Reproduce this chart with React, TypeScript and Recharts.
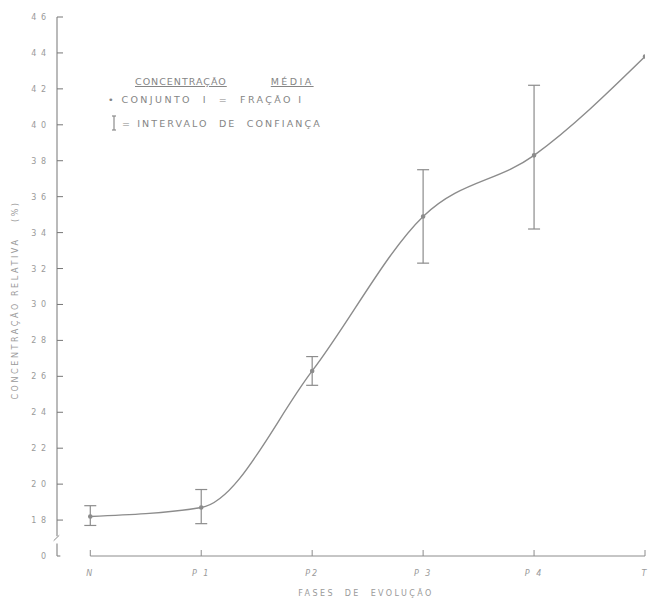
import { ComposedChart, Line, XAxis, YAxis, ErrorBar, ReferenceLine } from "recharts"

// fases de evolução e concentração média (%)
const phases = ["N", "P 1", "P2", "P 3", "P 4", "T"]
const mean = [18.2, 18.7, 26.3, 34.9, 38.3, 43.8]
const lower = [17.7, 17.8, 25.5, 32.3, 34.2, null]
const upper = [18.8, 19.7, 27.1, 37.5, 42.2, null]
const yTicks = [16, 18, 20, 22, 24, 26, 28, 30, 32, 34, 36, 38, 40, 42, 44, 46]

const data = phases.map((p, i) => ({
  x: i,
  mean: mean[i],
  err: lower[i] == null ? undefined : [mean[i] - (lower[i] as number), (upper[i] as number) - mean[i]],
}))

const GRAY = "#8c8c8c"
const TEXT = "#9a9a9a"
const FONT = "'DejaVu Sans', sans-serif"

const YTick = (props: any) => {
  const { y, payload } = props
  const v = payload.value
  const axisX = 57
  const label = v === 16 ? "0" : String(v).split("").join(" ")
  return (
    <g>
      {v !== 16 && <line x1={axisX} x2={axisX + 6} y1={y} y2={y} stroke="#777" strokeWidth={1} />}
      <text x={axisX - 10} y={y + 3} textAnchor="end" fontSize={8} fill={TEXT} fontFamily={FONT} letterSpacing={1}>
        {label}
      </text>
    </g>
  )
}

const XTick = (props: any) => {
  const { x, payload } = props
  const axisY = 556
  return (
    <g>
      <line x1={x} x2={x} y1={axisY} y2={axisY - 6} stroke={GRAY} strokeWidth={1} />
      <text x={x} y={axisY + 20} textAnchor="middle" fontSize={8} fill={TEXT} fontFamily={FONT} fontStyle="italic" letterSpacing={2}>
        {phases[payload.value]}
      </text>
    </g>
  )
}

export default function App() {
  return (
    <div style={{ position: "absolute", left: 0, top: 0, width: 650, height: 602, background: "#fff" }}>
      <ComposedChart width={650} height={602} data={data} margin={{ top: 17, right: 5, bottom: 6, left: 0 }}>
        <XAxis
          type="number"
          dataKey="x"
          domain={[-0.3, 5]}
          ticks={[0, 1, 2, 3, 4, 5]}
          axisLine={false}
          tickLine={false}
          tick={<XTick />}
          height={40}
          allowDataOverflow
        />
        <YAxis
          type="number"
          domain={[16, 46]}
          ticks={yTicks}
          axisLine={false}
          tickLine={false}
          tick={<YTick />}
          width={57}
          allowDataOverflow
        />
        {/* eixo x */}
        <ReferenceLine segment={[{ x: 0, y: 16 }, { x: 5, y: 16 }]} stroke={GRAY} strokeWidth={1} ifOverflow="visible" />
        {/* eixo y com quebra */}
        <ReferenceLine segment={[{ x: -0.3, y: 17.1 }, { x: -0.3, y: 46 }]} stroke={GRAY} strokeWidth={1.2} ifOverflow="visible" />
        <ReferenceLine segment={[{ x: -0.33, y: 16.85 }, { x: -0.28, y: 17.15 }]} stroke={GRAY} strokeWidth={1} ifOverflow="visible" />
        <ReferenceLine segment={[{ x: -0.3, y: 16 }, { x: -0.3, y: 16.7 }]} stroke={GRAY} strokeWidth={1.2} ifOverflow="visible" />
        <ReferenceLine segment={[{ x: -0.3, y: 16 }, { x: -0.27, y: 16 }]} stroke={GRAY} strokeWidth={1.2} ifOverflow="visible" />
        <Line
          type="monotone"
          dataKey="mean"
          stroke={GRAY}
          strokeWidth={1.4}
          dot={{ r: 1.6, fill: GRAY, stroke: GRAY }}
          isAnimationActive={false}
        >
          <ErrorBar dataKey="err" width={6} stroke={GRAY} strokeWidth={1.2} direction="y" />
        </Line>
      </ComposedChart>

      {/* título do eixo y */}
      <div
        style={{
          position: "absolute",
          left: 15,
          top: 300,
          transform: "translate(-50%, -50%) rotate(-90deg)",
          whiteSpace: "nowrap",
          fontFamily: FONT,
          fontSize: 8,
          letterSpacing: 2.6,
          color: TEXT,
        }}
      >
        CONCENTRAÇÃO RELATIVA &nbsp;&nbsp;(%)
      </div>

      {/* título do eixo x */}
      <div
        style={{
          position: "absolute",
          left: 366,
          top: 593,
          transform: "translate(-50%, -50%)",
          whiteSpace: "nowrap",
          fontFamily: FONT,
          fontSize: 8,
          letterSpacing: 2.4,
          color: TEXT,
        }}
      >
        FASES &nbsp;DE &nbsp;EVOLUÇÃO
      </div>

      {/* legenda */}
      <div style={{ position: "absolute", left: 108, top: 75, fontFamily: FONT, fontSize: 9.5, color: "#858585", letterSpacing: 2.4, lineHeight: "13px" }}>
        <div style={{ paddingLeft: 27, whiteSpace: "nowrap" }}>
          <span style={{ textDecoration: "underline", letterSpacing: 1 }}>CONCENTRAÇÃO</span>
          <span style={{ display: "inline-block", width: 44 }} />
          <span style={{ textDecoration: "underline", letterSpacing: 2.4 }}>MÉDIA</span>
        </div>
        <div style={{ marginTop: 5, whiteSpace: "nowrap" }}>• CONJUNTO &nbsp;I &nbsp;= &nbsp;FRAÇÃO I</div>
        <div style={{ marginTop: 9, whiteSpace: "nowrap", display: "flex", alignItems: "center", letterSpacing: 2.1 }}>
          <svg width={12} height={16} style={{ marginRight: 2 }}>
            <line x1={6} x2={6} y1={1} y2={15} stroke={GRAY} strokeWidth={1.2} />
            <line x1={4} x2={8} y1={1} y2={1} stroke={GRAY} strokeWidth={1.2} />
            <line x1={4} x2={8} y1={15} y2={15} stroke={GRAY} strokeWidth={1.2} />
          </svg>
          = INTERVALO &nbsp;DE &nbsp;CONFIANÇA
        </div>
      </div>
    </div>
  )
}
